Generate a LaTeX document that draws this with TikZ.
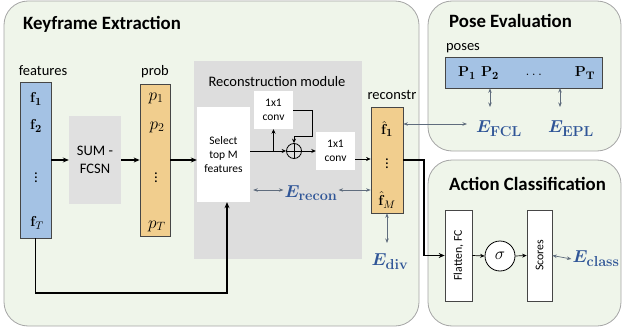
\documentclass[tikz,border=0pt]{standalone}
\usepackage{amsmath,bm}
\usepackage[no-math]{fontspec}
\setmainfont{Carlito}
\usetikzlibrary{arrows.meta}

\definecolor{panelfill}{RGB}{239,245,234}
\definecolor{panelline}{RGB}{165,165,165}
\definecolor{featblue}{RGB}{164,194,228}
\definecolor{probor}{RGB}{241,206,142}
\definecolor{modgray}{RGB}{221,221,221}
\definecolor{sumgray}{RGB}{224,224,224}
\definecolor{errblue}{RGB}{47,85,151}
\definecolor{lossarr}{RGB}{95,108,125}
\definecolor{boxline}{RGB}{70,70,70}

\tikzset{
  panel/.style={draw=panelline, fill=panelfill, line width=0.8pt, rounded corners=24pt},
  paneltitle/.style={font=\fontsize{18.8}{20}\selectfont\bfseries, anchor=west, inner sep=0pt},
  lbl/.style={font=\fontsize{14.5}{16}\selectfont, inner sep=0pt},
  small/.style={font=\fontsize{11.5}{14}\selectfont, align=center, inner sep=0pt},
  vecbox/.style={draw=boxline, line width=0.7pt},
  whitebox/.style={fill=white, draw=none},
  stagebox/.style={draw=boxline, fill=white, line width=0.7pt},
  sym/.style={font=\fontsize{15}{15}\selectfont, inner sep=0pt},
  psym/.style={font=\fontsize{17}{17}\selectfont, inner sep=0pt},
  dots/.style={font=\fontsize{15}{15}\selectfont, inner sep=0pt},
  err/.style={text=errblue, font=\fontsize{19}{19}\selectfont, inner sep=1pt},
  flow/.style={line width=1.4pt, -{Stealth[length=6pt,width=5pt]}},
  thin flow/.style={line width=0.7pt, -{Stealth[length=4.5pt,width=4pt]}},
  loss/.style={draw=lossarr, line width=0.7pt, {Stealth[length=4.5pt,width=3.5pt]}-{Stealth[length=4.5pt,width=3.5pt]}},
}

\begin{document}
\begin{tikzpicture}[x=1pt,y=-1pt]
\useasboundingbox (0,0) rectangle (624,329);

% three panels
\draw[panel] (4,1) rectangle (419,326);
\draw[panel] (428,1) rectangle (621,151);
\draw[panel] (428,160) rectangle (621,326);
\node[paneltitle] (tkey) at (23,24) {Keyframe Extraction};
\node[paneltitle] (tpose) at (449,21) {Pose Evaluation};
\node[paneltitle] (tact) at (449,184) {Action Classification};

% feature vector
\node[lbl] (lfeat) at (43,71) {features};
\node[vecbox, fill=featblue, minimum width=31pt, minimum height=156pt] (fbox) at (35.5,160) {};
\node[sym] (f1) at (36,99) {$\mathbf{f}_{\mathbf{1}}$};
\node[sym] (f2) at (36,126) {$\mathbf{f}_{\mathbf{2}}$};
\node[dots] (fd) at (36,175) {$\vdots$};
\node[sym] (fT) at (37,223) {$\mathbf{f}_{T}$};

% SUM-FCSN
\node[fill=sumgray, minimum width=52pt, minimum height=88pt, font=\fontsize{14.5}{16}\selectfont, align=center] (sum) at (95,160) {SUM -\\[2pt]FCSN};

% probabilities
\node[lbl] (lprob) at (155,72) {prob};
\node[vecbox, fill=probor, minimum width=30pt, minimum height=152pt] (prob) at (155,160) {};
\node[psym] (p1) at (156,98) {$p_1$};
\node[psym] (p2) at (157,127) {$p_2$};
\node[dots] (pd) at (156,175) {$\vdots$};
\node[psym] (pT) at (157,226) {$p_T$};

% reconstruction module
\node[fill=modgray, minimum width=168pt, minimum height=198pt] (recmod) at (278,160) {};
\node[lbl] (lrec) at (277,82) {Reconstruction module};
\node[whitebox, small, minimum width=53pt, minimum height=95pt] (select) at (223.5,154.5) {Select\\top M\\features};
\node[whitebox, small, minimum width=39pt, minimum height=38pt] (conv1) at (273.5,110) {1x1\\conv};
\node[draw=black, circle, line width=0.8pt, minimum size=15pt, inner sep=0pt] (oplus) at (294,151) {};
\draw[line width=0.8pt] (oplus.north) -- (oplus.south) (oplus.west) -- (oplus.east);
\node[whitebox, small, minimum width=39pt, minimum height=38pt] (conv2) at (335.5,151) {1x1\\conv};

% reconstructed features
\node[lbl] (lrecon) at (392,95) {reconstr};
\node[vecbox, fill=probor, minimum width=32pt, minimum height=106pt] (rbox) at (387,160) {};
\node[sym] (r1) at (387,129) {$\hat{\mathbf{f}}_{\mathbf{1}}$};
\node[dots] (rd) at (387,161) {$\vdots$};
\node[sym] (rM) at (387,200) {$\hat{\mathbf{f}}_{M}$};

% losses of the keyframe stage
\node[err] (erecon) at (311,193) {$\bm{E}_{\mathbf{recon}}$};
\node[err] (ediv) at (390,262) {$\bm{E}_{\mathbf{div}}$};

% poses
\node[lbl] (lposes) at (463,48) {poses};
\node[vecbox, fill=featblue, minimum width=157pt, minimum height=31pt] (poses) at (523.5,72.5) {};
\node[sym] (P1) at (467,73) {$\mathbf{P}_{\mathbf{1}}$};
\node[sym] (P2) at (490,73) {$\mathbf{P}_{\mathbf{2}}$};
\node[sym] (Pd) at (535,75) {$\dots$};
\node[sym] (PT) at (585,73) {$\mathbf{P}_{\mathbf{T}}$};
\node[err] (efcl) at (499,129) {$\bm{E}_{\mathbf{FCL}}$};
\node[err] (eepl) at (571,129) {$\bm{E}_{\mathbf{EPL}}$};
\coordinate (eplx) at (560,88);

% action classifier
\node[stagebox, minimum width=27pt, minimum height=91pt] (flat) at (458.5,255.5) {};
\node[small, rotate=90, font=\fontsize{11.8}{13}\selectfont] (tflat) at (flat) {Flatten, FC};
\node[draw=black, fill=white, circle, line width=0.8pt, minimum size=30pt, inner sep=0pt, font=\fontsize{19}{19}\selectfont] (sigma) at (500,256) {$\sigma$};
\node[stagebox, minimum width=25pt, minimum height=91pt] (scores) at (539.5,255.5) {};
\node[small, rotate=90, font=\fontsize{11.8}{13}\selectfont] (tscores) at (scores) {Scores};
\node[err] (eclass) at (596,259) {$\bm{E}_{\mathbf{class}}$};

% main data flow
\draw[flow] (fbox.east) -- (sum.west);
\draw[flow] (sum.east) -- (prob.west);
\draw[flow] (prob.east) -- (prob.east -| select.west);
\coordinate (fb) at (227,293);
\draw[flow] (fbox.south) |- (fb) -- (fb |- select.south);
\coordinate (turn) at (424,160);
\draw[flow] (rbox.east) -- (turn) |- (flat.west);

% inside the reconstruction module
\coordinate (br) at (conv1.south |- oplus);
\draw[line width=0.7pt] (select.east |- oplus) -- (br);
\draw[thin flow] (br) -- (oplus.west);
\draw[thin flow] (br) -- (conv1.south);
\coordinate (loop) at (312,136);
\draw[thin flow] (conv1.east) -| (loop) -| (oplus.north);
\draw[thin flow] (oplus.east) -- (conv2.west);
\coordinate (c2out) at ([yshift=-8pt]conv2.east);
\draw[thin flow] (c2out) -- (c2out -| rbox.west);

% classifier flow
\draw[thin flow] (flat.east) -- (sigma.west);
\draw[thin flow] (sigma.east) -- (scores.west);

% loss connections
\coordinate (rtop) at ([yshift=36pt]rbox.east);
\draw[loss] ([xshift=3pt]select.east |- 0,190) -- (erecon.west |- 0,190);
\draw[loss] (erecon.east |- 0,190) -- (rbox.west |- 0,190);
\draw[loss] (rbox.south) -- (rbox.south |- 0,243);
\draw[loss] (rtop) -- (rtop -| 467,0);
\draw[loss] (P2.south |- poses.south) -- (P2.south |- 0,107);
\draw[loss] (eplx) -- ++(0,19);
\draw[loss] (scores.east) -- (eclass.west);
\end{tikzpicture}
\end{document}
